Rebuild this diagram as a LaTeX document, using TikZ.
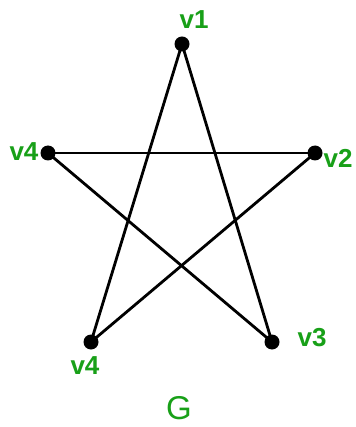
\documentclass[tikz,border=0pt]{standalone}
\usepackage{fontspec}
\setmainfont{Liberation Sans}
\definecolor{lblgreen}{RGB}{24,160,24}
\begin{document}
\begin{tikzpicture}[x=1pt,y=-1pt,
  vert/.style={circle,fill=black,inner sep=0pt,minimum size=15pt},
  lbl/.style={text=lblgreen,font=\fontsize{26}{26}\selectfont\bfseries,inner sep=0pt},
  edge/.style={line width=2.8pt,black}]
\useasboundingbox (0,0) rectangle (355,427);
\fill[white] (0,0) rectangle (355,427);
\node[vert] (v1) at (182,44) {};
\node[vert] (v2) at (315,153) {};
\node[vert] (v3) at (272,342) {};
\node[vert] (v4b) at (91,342) {};
\node[vert] (v4l) at (48,153) {};
\draw[edge] (v1.center) -- (v3.center);
\draw[edge] (v1.center) -- (v4b.center);
\draw[edge] (v4l.center) -- (v2.center);
\draw[edge] (v4l.center) -- (v3.center);
\draw[edge] (v2.center) -- (v4b.center);
\node[lbl] (l1) at (194,20) {v1};
\node[lbl] (l2) at (338,158) {v2};
\node[lbl] (l3) at (312,338) {v3};
\node[lbl] (l4l) at (24,152) {v4};
\node[lbl] (l4b) at (85,366) {v4};
\node[text=lblgreen,font=\fontsize{33}{33}\selectfont,inner sep=0pt] (g) at (179,408) {G};
\end{tikzpicture}
\end{document}
